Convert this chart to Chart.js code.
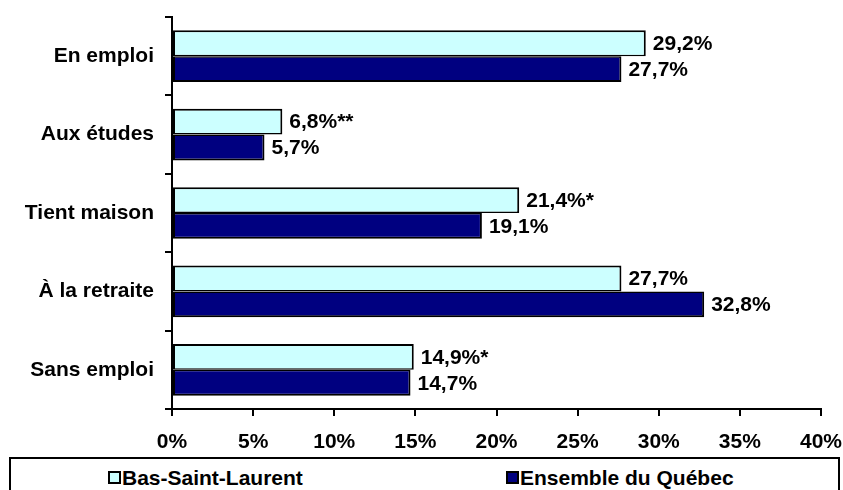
<!DOCTYPE html>
<html lang="fr">
<head>
<meta charset="utf-8">
<script src="https://cdn.jsdelivr.net/npm/chart.js@4/dist/chart.umd.min.js"></script>
<style>
  html, body { margin: 0; padding: 0; background: #fff; }
  #wrap { position: relative; width: 843px; height: 490px; overflow: hidden; }
  #legende {
    position: absolute; left: 9px; top: 457px; width: 831px; height: 40px;
    border: 2px solid #000; box-sizing: border-box; background: #fff;
    font: bold 21px "Liberation Sans", Arial, sans-serif; color: #000;
  }
  .item { position: absolute; top: 7px; white-space: nowrap; line-height: 24px; }
  .carre {
    position: absolute; left: 0; top: 5px; width: 13px; height: 13px;
    border: 2px solid #000; box-sizing: border-box;
  }
  .item span.txt { position: absolute; left: 14px; top: 0; }
</style>
</head>
<body>
<div id="wrap">
  <canvas id="graphique"></canvas>
  <div id="legende"></div>
</div>
<script>
// --- Données ---
const categories = ['En emploi', 'Aux études', 'Tient maison', 'À la retraite', 'Sans emploi'];
const bslValeurs = [29.2, 6.8, 21.4, 27.7, 14.9];
const bslNotes = ['', '**', '*', '', '*'];   // coefficients de variation
const quebecValeurs = [27.7, 5.7, 19.1, 32.8, 14.7];
const quebecNotes = ['', '', '', '', ''];
const seriesNoms = ['Bas-Saint-Laurent', 'Ensemble du Québec'];
const couleurs = ['#CCFFFF', '#000080'];
const ticksX = [0, 5, 10, 15, 20, 25, 30, 35, 40];

const POLICE = '"Liberation Sans", Arial, sans-serif';
const TAILLE = 21;

// format 29,2%
function formatPct(v) {
    return v.toFixed(1).replace('.', ',') + '%';
}

// étiquettes de valeur au bout des barres
const etiquettesPlugin = {
    id: 'etiquettes',
    afterDatasetsDraw(chart) {
        const ctx = chart.ctx;
        ctx.save();
        ctx.font = 'bold ' + TAILLE + 'px ' + POLICE;
        ctx.fillStyle = '#000';
        ctx.textAlign = 'left';
        ctx.textBaseline = 'middle';
        chart.data.datasets.forEach((ds, i) => {
            const meta = chart.getDatasetMeta(i);
            meta.data.forEach((bar, j) => {
                const txt = formatPct(ds.data[j]) + ds.notes[j];
                ctx.fillText(txt, bar.x + 7, bar.y + 1);
            });
        });
        ctx.restore();
    }
};

const ctx = document.getElementById('graphique').getContext('2d');
new Chart(ctx, {
    type: 'bar',
    data: {
        labels: categories,
        datasets: [
            {
                label: seriesNoms[0],
                data: bslValeurs,
                notes: bslNotes,
                backgroundColor: couleurs[0],
                borderColor: '#000',
                borderWidth: { top: 2, right: 2, bottom: 1.5, left: 2 },
                borderSkipped: false
            },
            {
                label: seriesNoms[1],
                data: quebecValeurs,
                notes: quebecNotes,
                backgroundColor: couleurs[1],
                borderColor: '#000',
                borderWidth: { top: 1.5, right: 2, bottom: 2, left: 2 },
                borderSkipped: false
            }
        ]
    },
    options: {
        indexAxis: 'y',
        responsive: true,
        maintainAspectRatio: false,
        animation: false,
        datasets: { bar: { categoryPercentage: 0.66, barPercentage: 1.0 } },
        layout: { padding: { top: 17, right: 22, bottom: 0, left: 0 } },
        plugins: {
            legend: { display: false },
            tooltip: { enabled: false }
        },
        scales: {
            x: {
                min: 0,
                max: 40,
                afterBuildTicks: (scale) => { scale.ticks = ticksX.map(v => ({ value: v })); },
                afterFit: (scale) => {
                    scale.height = 81;
                    scale.paddingLeft = 0;
                    scale.paddingRight = 0;
                },
                border: { display: true, color: '#000', width: 2 },
                grid: { drawOnChartArea: false, drawTicks: true, tickLength: 7, color: '#000', lineWidth: 2 },
                ticks: {
                    color: '#000',
                    padding: 14,
                    maxRotation: 0,
                    font: { family: POLICE, size: TAILLE, weight: 'bold' },
                    callback: (v) => v + '%'
                }
            },
            y: {
                afterFit: (scale) => {
                    scale.width = 172;
                    scale.paddingTop = 0;
                    scale.paddingBottom = 0;
                },
                border: { display: true, color: '#000', width: 2 },
                grid: { drawOnChartArea: false, drawTicks: true, tickLength: 7, color: '#000', lineWidth: 2, offset: true },
                ticks: {
                    color: '#000',
                    padding: 11,
                    font: { family: POLICE, size: TAILLE, weight: 'bold' }
                }
            }
        }
    },
    plugins: [etiquettesPlugin]
});

// légende encadrée sous le graphique
const legende = document.getElementById('legende');
const positionsLegende = [97, 495];
seriesNoms.forEach((nom, i) => {
    const item = document.createElement('div');
    item.className = 'item';
    item.style.left = positionsLegende[i] + 'px';
    item.innerHTML = `<div class="carre" style="background:${couleurs[i]}"></div><span class="txt">${nom}</span>`;
    legende.appendChild(item);
});
</script>
</body>
</html>
